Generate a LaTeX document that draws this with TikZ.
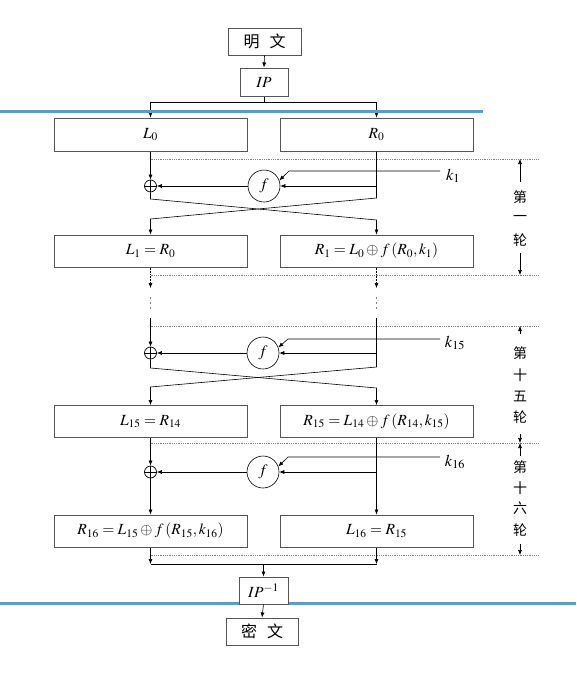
\documentclass[tikz,border=0pt]{standalone}
\usepackage{mathptmx}
\usepackage{fontspec}
\newfontfamily\cjk{Noto Sans CJK SC}
\usetikzlibrary{arrows.meta}
\definecolor{bluebar}{HTML}{5B9BD5}
\definecolor{boxgray}{HTML}{555555}
\tikzset{
  box/.style={draw=boxgray, line width=1pt, fill=white, inner sep=0pt, font=\fontsize{15.5}{18}\selectfont},
  colbox/.style={box, minimum width=193pt, minimum height=32pt},
  conn/.style={draw=black, line width=0.6pt},
  arr/.style={conn, -{Latex[length=5pt,width=4pt]}},
  darr/.style={arr, densely dotted},
  sep/.style={draw=gray, densely dotted, line width=0.8pt},
  fcirc/.style={draw=black, line width=0.6pt, circle, minimum size=32pt, inner sep=0pt, fill=white, font=\fontsize{16}{18}\selectfont},
  xorc/.style={draw=black, line width=0.7pt, circle, minimum size=12pt, inner sep=0pt},
  klab/.style={font=\fontsize{16.5}{19}\selectfont, inner sep=1pt},
  side/.style={font=\cjk\fontsize{14}{16}\selectfont, inner sep=1pt},
  cjkbox/.style={box, font=\cjk\fontsize{16}{18}\selectfont},
  vdot/.style={circle, fill=black, inner sep=0pt, minimum size=1.3pt},
  bluebarline/.style={draw=bluebar, line width=3pt}
}
\begin{document}
\begin{tikzpicture}[x=1pt,y=-1pt]
\useasboundingbox (0,0) rectangle (576,675);
% lower blue bar (behind boxes)
\draw[bluebarline] (0,603) -- (576,603);

% top
\node[cjkbox, minimum width=73pt, minimum height=27pt] (mw) at (264.5,41.5) {明\hspace{10pt}文};
\node[box, minimum width=48pt, minimum height=28pt] (ip) at (264,82) {$IP$};
\draw[arr] (mw.south) -- (ip.north);

\node[colbox, minimum height=33pt] (L0) at (150.5,134.5) {$L_0$};
\node[colbox, minimum height=33pt] (R0) at (376.5,134.5) {$R_0$};
\coordinate (sp) at (264,102);
\draw[conn] (ip.south) -- (sp);
\draw[arr] (sp) -| (L0.north);
\draw[arr] (sp) -| (R0.north);

% ---------- round 1 ----------
\draw[sep] (150.5,159) -- (538,159);
\node[xorc] (x1) at (150.5,186) {};
\draw[conn] (x1.north) -- (x1.south) (x1.west) -- (x1.east);
\node[fcirc] (f1) at (264,186) {$f$};
\node[klab] (k1) at (453,176) {$k_1$};
\coordinate (kk1) at (440,171);
\draw[arr] (kk1) -- (289,171) -- (f1.20);
\draw[arr] (L0.south) -- (x1.north);
\draw[arr] (376.5,186) -- (f1.east);
\draw[arr] (f1.west) -- (x1.east);
\node[colbox] (L1) at (150.5,251) {$L_1 = R_0$};
\node[colbox] (R1) at (376.5,251) {$R_1 = L_0 \oplus f\,(R_0, k_1)$};
\draw[arr] (R0.south) -- (376.5,198) -- (150.5,219) -- (L1.north);
\draw[arr] (x1.south) -- (150.5,199) -- (376.5,220) -- (R1.north);
% side label
\node[side] (a1) at (520,197) {第};
\node[side] (a2) at (520,218) {一};
\node[side] (a3) at (520,240) {轮};
\draw[arr] (520,182) -- (520,159);
\draw[arr] (520,253) -- (520,275);

% ---------- gap ----------
\draw[sep] (150.5,275) -- (538,275);
\draw[darr] (L1.south) -- (150.5,288);
\draw[darr] (R1.south) -- (376.5,288);
\foreach \yy in {298,303,308} {
  \node[vdot] at (150.5,\yy) {};
  \node[vdot] at (376.5,\yy) {};
}

% ---------- round 15 ----------
\draw[sep] (150.5,326) -- (538,326);
\node[xorc] (x15) at (150.5,353) {};
\draw[conn] (x15.north) -- (x15.south) (x15.west) -- (x15.east);
\node[fcirc] (f15) at (263,353) {$f$};
\node[klab] (k15) at (455,343) {$k_{15}$};
\coordinate (kk15) at (440,339);
\draw[arr] (kk15) -- (288,339) -- (f15.20);
\draw[arr] (150.5,318) -- (x15.north);
\draw[arr] (376.5,353) -- (f15.east);
\draw[arr] (f15.west) -- (x15.east);
\node[colbox] (L15) at (150.5,421.5) {$L_{15} = R_{14}$};
\node[colbox] (R15) at (376.5,421.5) {$R_{15} = L_{14} \oplus f\,(R_{14}, k_{15})$};
\draw[arr] (376.5,318) -- (376.5,367) -- (150.5,387) -- (L15.north);
\draw[arr] (x15.south) -- (150.5,368) -- (376.5,388) -- (R15.north);
\node[side] (b1) at (520,353) {第};
\node[side] (b2) at (520,375) {十};
\node[side] (b3) at (520,396) {五};
\node[side] (b4) at (520,417) {轮};
\draw[arr] (520,334) -- (520,326);
\draw[arr] (520,434) -- (520,443);

% ---------- round 16 ----------
\draw[sep] (150.5,443) -- (538,443);
\node[xorc] (x16) at (150.5,472) {};
\draw[conn] (x16.north) -- (x16.south) (x16.west) -- (x16.east);
\node[fcirc] (f16) at (263,472) {$f$};
\node[klab] (k16) at (455,462) {$k_{16}$};
\coordinate (kk16) at (440,457);
\draw[arr] (kk16) -- (288,457) -- (f16.20);
\draw[arr] (L15.south) -- (x16.north);
\draw[arr] (376.5,472) -- (f16.east);
\draw[arr] (f16.west) -- (x16.east);
\node[colbox] (R16) at (150.5,531) {$R_{16} = L_{15} \oplus f\,(R_{15}, k_{16})$};
\node[colbox] (L16) at (376.5,531) {$L_{16} = R_{15}$};
\draw[arr] (R15.south) -- (L16.north);
\draw[arr] (x16.south) -- (R16.north);
\node[side] (c1) at (520,467) {第};
\node[side] (c2) at (520,488) {十};
\node[side] (c3) at (520,508) {六};
\node[side] (c4) at (520,530) {轮};
\draw[arr] (520,456) -- (520,443);
\draw[arr] (520,544) -- (520,555);

% ---------- output ----------
\draw[sep] (150.5,555) -- (538,555);
\draw[arr] (R16.south) -- (150.5,564);
\draw[arr] (L16.south) -- (376.5,564);
\draw[conn] (150.5,564) -- (376.5,564);
\node[box, minimum width=49pt, minimum height=27pt] (ipi) at (263.5,590.5) {$IP^{-1}$};
\draw[arr] (263.5,564) -- (ipi.north);
\node[cjkbox, minimum width=72pt, minimum height=27pt] (mi) at (262,631.5) {密\hspace{10pt}文};
\draw[arr] (ipi.south) -- (mi.north);

% upper blue bar (on top)
\draw[bluebarline] (0,111) -- (483,111);
\end{tikzpicture}
\end{document}
